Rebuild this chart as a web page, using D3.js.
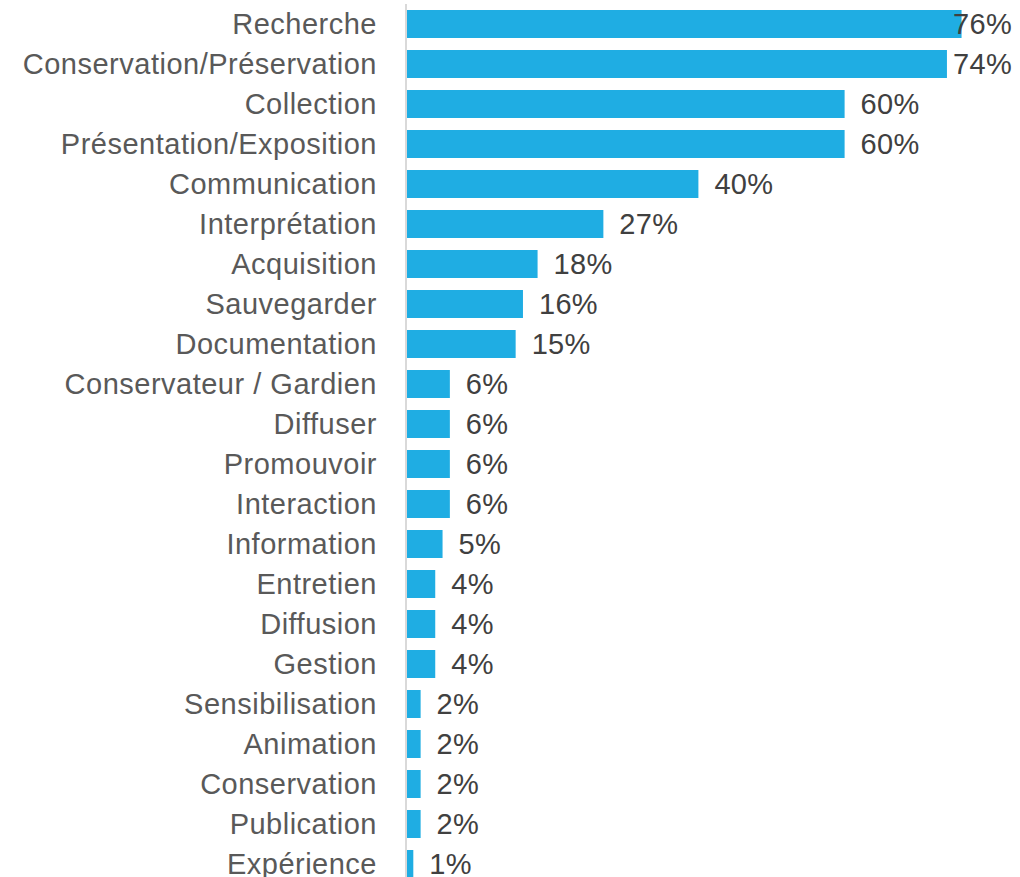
<!DOCTYPE html>
<html>
<head>
<meta charset="utf-8">
<script src="https://cdn.jsdelivr.net/npm/d3@7"></script>
<style>
  html, body { margin: 0; padding: 0; background: #fff; }
  svg { display: block; }
</style>
</head>
<body>
<svg id="chart" width="1020" height="877"></svg>
<script>
// Activities, ordered as listed
const categories = [
  "Recherche", "Conservation/Préservation", "Collection", "Présentation/Exposition",
  "Communication", "Interprétation", "Acquisition", "Sauvegarder", "Documentation",
  "Conservateur / Gardien", "Diffuser", "Promouvoir", "Interaction", "Information",
  "Entretien", "Diffusion", "Gestion", "Sensibilisation", "Animation",
  "Conservation", "Publication", "Expérience"
];
// Share of responses (%)
const values = [76, 74, 60, 60, 40, 27, 18, 16, 15, 6, 6, 6, 6, 5, 4, 4, 4, 2, 2, 2, 2, 1];

const W = 1020, H = 877;
const x0 = 406;
const svg = d3.select("#chart");
const fontFamily = "'Liberation Sans', Arial, sans-serif";

const x = d3.scaleLinear().domain([0, 100]).range([x0, x0 + 731]);
const y = d3.scaleBand().domain(categories).range([4, 884]).paddingInner(0.3).paddingOuter(0.15);

// bars
svg.append("g").selectAll("rect")
  .data(values)
  .join("rect")
  .attr("x", x(0))
  .attr("y", (d, i) => y(categories[i]))
  .attr("width", d => x(d) - x(0))
  .attr("height", y.bandwidth())
  .attr("fill", "#1FADE3");

// category axis
const axis = svg.append("g")
  .attr("transform", `translate(${x0},0)`)
  .call(d3.axisLeft(y).tickSize(0).tickPadding(29));
axis.select(".domain").attr("stroke", "#d9d9d9").attr("stroke-width", 2).attr("d", `M0,4V${H}`);
axis.selectAll("text")
  .attr("fill", "#595959")
  .attr("dy", "0.35em")
  .style("font-family", fontFamily)
  .style("font-size", "29px")
  .style("letter-spacing", "0.5px");

// value labels
const labels = svg.append("g").selectAll("text")
  .data(values)
  .join("text")
  .attr("y", (d, i) => y(categories[i]) + y.bandwidth() / 2)
  .attr("dy", "0.35em")
  .attr("fill", "#404040")
  .style("font-family", fontFamily)
  .style("font-size", "29px")
  .style("letter-spacing", "0.3px")
  .text(d => d + "%");
labels.each(function(d) {
  const w = this.getComputedTextLength();
  const px = Math.min(x(d) + 16, 1012 - w);
  d3.select(this).attr("x", px);
});
</script>
</body>
</html>
